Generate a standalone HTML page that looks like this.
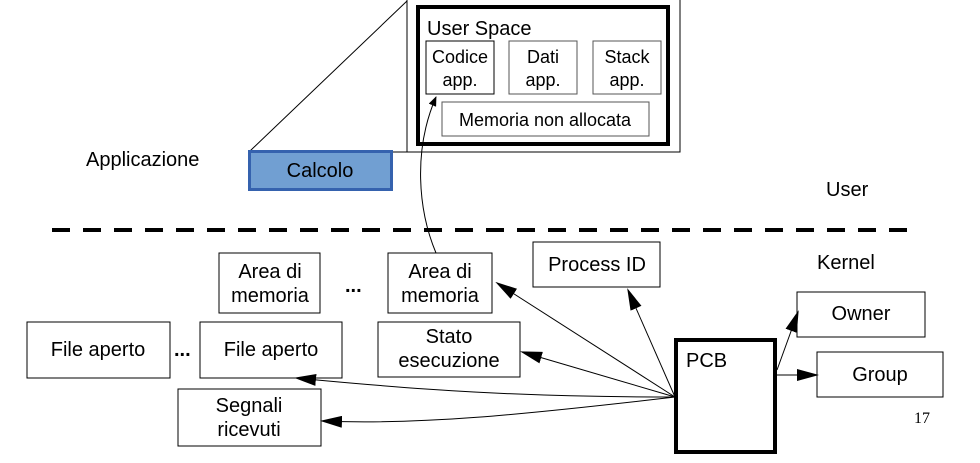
<!DOCTYPE html>
<html><head><meta charset="utf-8"><style>
body{margin:0;background:#fff}
svg text{font-family:"Liberation Sans",sans-serif;fill:#000}
</style></head><body>
<svg width="980" height="458" viewBox="0 0 980 458" xmlns="http://www.w3.org/2000/svg">
<defs><marker id="a" markerWidth="10" markerHeight="8" refX="9" refY="4" orient="auto" markerUnits="userSpaceOnUse" viewBox="0 0 10 8"><path d="M0,0L10,4L0,8z" fill="#000"/></marker>
<marker id="b" markerWidth="22" markerHeight="12" refX="20" refY="6" orient="auto" markerUnits="userSpaceOnUse" viewBox="0 0 22 12"><path d="M0,0L22,6L0,12z" fill="#000"/></marker></defs>
<g fill="none" stroke="#000">
<path d="M407,0V152H680V0" stroke-width="1"/>
<line x1="407" y1="1" x2="250" y2="151" stroke-width="1"/>
<line x1="392" y1="152" x2="407" y2="152"/>
<rect x="418" y="7" width="250" height="137" stroke-width="4"/>
<rect x="426" y="41" width="68" height="53"/>
<rect x="509" y="41" width="68" height="53" stroke="#555"/>
<rect x="593" y="41" width="68" height="53" stroke="#555"/>
<rect x="442" y="102" width="207" height="34" stroke="#555"/>
<line x1="52" y1="230" x2="916" y2="230" stroke-width="4" stroke-dasharray="18,13"/>
<rect x="219" y="253" width="101" height="60"/>
<rect x="388" y="253" width="104" height="60"/>
<rect x="533" y="242" width="127" height="45"/>
<rect x="797" y="292" width="128" height="45"/>
<rect x="817" y="352" width="126" height="45"/>
<rect x="676" y="340" width="99" height="112" stroke-width="4"/>
<rect x="27" y="322" width="143" height="56"/>
<rect x="200" y="322" width="142" height="56"/>
<rect x="378" y="322" width="142" height="55"/>
<rect x="178" y="389" width="143" height="57"/>
<path d="M436,253 C418,210 413,150 436,97" marker-end="url(#a)"/>
<line x1="675" y1="397" x2="497" y2="283" marker-end="url(#b)"/>
<line x1="675" y1="397" x2="628" y2="290" marker-end="url(#b)"/>
<line x1="675" y1="397" x2="522" y2="352" marker-end="url(#b)"/>
<path d="M675,397 C520,397 420,390 296,378" marker-end="url(#b)"/>
<path d="M675,397 C520,415 420,425 322,421" marker-end="url(#b)"/>
<line x1="777" y1="370" x2="798" y2="312" marker-end="url(#b)"/>
<line x1="777" y1="375" x2="817" y2="375" marker-end="url(#b)"/>
</g>
<rect x="249.5" y="151.5" width="142" height="38" fill="#719fd2" stroke="#3562ae" stroke-width="3"/>
<g font-size="20">
<text x="427" y="35" font-size="20">User Space</text>
<g text-anchor="middle" font-size="18">
<text x="460" y="63">Codice</text><text x="460" y="86">app.</text>
<text x="543" y="63">Dati</text><text x="543" y="86">app.</text>
<text x="627" y="63">Stack</text><text x="627" y="86">app.</text>
<text x="545" y="126">Memoria non allocata</text>
</g>
<text x="86" y="166">Applicazione</text>
<text x="320" y="177" text-anchor="middle">Calcolo</text>
<text x="826" y="196">User</text>
<text x="817" y="269">Kernel</text>
<g text-anchor="middle">
<text x="270" y="278">Area di</text><text x="270" y="302">memoria</text>
<text x="440" y="278">Area di</text><text x="440" y="302">memoria</text>
<text x="597" y="271">Process ID</text>
<text x="861" y="320">Owner</text>
<text x="880" y="381">Group</text>
<text x="98" y="356">File aperto</text>
<text x="271" y="356">File aperto</text>
<text x="449" y="343">Stato</text><text x="449" y="367">esecuzione</text>
<text x="249" y="412">Segnali</text><text x="249" y="436">ricevuti</text>
</g>
<text x="686" y="367">PCB</text>
<text x="345" y="292" font-weight="bold">...</text>
<text x="174" y="356" font-weight="bold">...</text>
<text x="914" y="423" font-size="16" style="font-family:'Liberation Serif',serif">17</text>
</g>
</svg>
</body></html>
